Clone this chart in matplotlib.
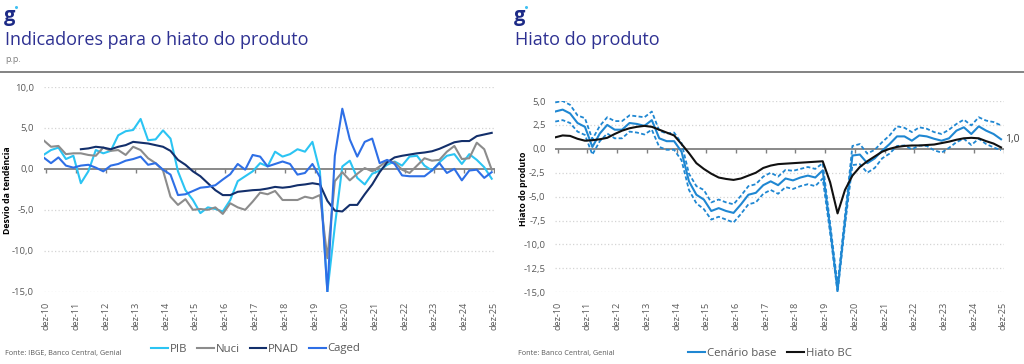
import numpy as np
import pandas as pd
import matplotlib
matplotlib.use("Agg")
import matplotlib.pyplot as plt
from matplotlib.lines import Line2D

plt.rcParams['font.family'] = ['Open Sans', 'DejaVu Sans']

# ---------------- data ----------------
quarters = pd.period_range('2010Q4', '2025Q4', freq='Q')
tick_labels = ['dez-10', 'dez-11', 'dez-12', 'dez-13', 'dez-14', 'dez-15', 'dez-16', 'dez-17',
               'dez-18', 'dez-19', 'dez-20', 'dez-21', 'dez-22', 'dez-23', 'dez-24', 'dez-25']

# Left chart: indicators for the output gap (p.p.)
pib = [1.7, 2.3, 2.6, 1.2, 1.6, -1.75, -0.3, 2.3, 1.9, 2.2,
       4.1, 4.6, 4.75, 6.1, 3.5, 3.6, 4.7, 3.7, -0.3, -2.6,
       -3.8, -5.4, -4.7, -4.9, -5.2, -3.8, -1.5, -0.9, -0.3, 0.7,
       0.3, 2.1, 1.5, 1.8, 2.4, 2.1, 3.3, -0.3, -15.0, -7.0,
       0.3, 1.0, -1.1, -1.9, -0.6, -0.2, 0.5, 0.9, 0.4, 1.5,
       1.6, 0.4, -0.2, 0.8, 1.6, 1.8, 0.6, 1.8, 1.1, 0.2,
       -1.2]
nuci = [3.5, 2.7, 2.8, 1.8, 1.9, 1.9, 1.7, 1.6, 2.6, 2.2,
        2.3, 1.7, 2.7, 2.3, 1.3, 0.7, -0.2, -3.4, -4.4, -3.7,
        -5.0, -4.9, -5.0, -4.7, -5.5, -4.2, -4.7, -5.0, -4.0, -2.9,
        -3.1, -2.7, -3.8, -3.8, -3.8, -3.4, -3.6, -3.2, -10.9, -1.5,
        -0.4, -1.4, -0.6, 0.1, -0.3, 0.3, 1.0, 0.8, -0.1, -0.5,
        0.4, 1.3, 1.0, 1.1, 2.1, 2.8, 1.2, 1.3, 3.2, 2.4,
        -0.1]
pnad = [None, None, None, None, None, 2.4, 2.5, 2.7, 2.6, 2.4,
        2.7, 2.9, 3.3, 3.2, 3.1, 2.9, 2.7, 2.2, 1.1, 0.5,
        -0.3, -0.9, -1.75, -2.6, -3.2, -3.2, -2.8, -2.7, -2.6, -2.55,
        -2.4, -2.2, -2.3, -2.2, -2.0, -1.9, -1.75, -1.9, -3.9, -5.1,
        -5.2, -4.4, -4.4, -3.1, -1.9, -0.4, 0.8, 1.4, 1.6, 1.75,
        1.9, 2.0, 2.15, 2.45, 2.85, 3.25, 3.4, 3.4, 4.0, 4.2,
        4.4]
caged = [1.4, 0.7, 1.4, 0.4, 0.15, 0.4, 0.5, 0.15, -0.3, 0.4,
         0.6, 1.0, 1.2, 1.5, 0.5, 0.7, -0.1, -0.7, -3.2, -3.1,
         -2.7, -2.3, -2.2, -2.0, -1.3, -0.65, 0.6, -0.1, 1.7, 1.5,
         0.3, 0.6, 0.9, 0.6, -0.7, -0.5, 0.6, -1.0, -15.0, 1.6,
         7.35, 3.6, 1.5, 3.3, 3.7, 0.7, 1.1, 0.6, -0.8, -0.9,
         -0.9, -0.9, -0.2, 0.7, -0.5, 0.0, -1.4, -0.2, -0.1, -1.1,
         -0.4]

# Right chart: output gap
base = [3.9, 4.1, 3.7, 2.7, 2.3, 0.2, 1.6, 2.5, 2.0, 2.0,
        2.7, 2.6, 2.4, 3.0, 1.1, 0.8, 0.8, -0.3, -3.4, -4.8,
        -5.3, -6.5, -6.2, -6.5, -6.7, -5.8, -4.8, -4.6, -3.8, -3.4,
        -3.8, -3.1, -3.3, -3.0, -2.8, -3.0, -2.25, -8.3, -14.8, -7.5,
        -0.7, -0.6, -1.5, -1.0, -0.2, 0.5, 1.3, 1.3, 0.85, 1.4,
        1.3, 1.05, 0.85, 1.1, 1.9, 2.25, 1.55, 2.35, 1.9, 1.55,
        1.0]
upper = [4.85, 5.0, 4.6, 3.5, 3.2, 1.0, 2.4, 3.3, 2.9, 2.9,
         3.5, 3.4, 3.3, 3.9, 1.9, 1.6, 1.7, 0.6, -2.6, -3.9,
         -4.3, -5.6, -5.3, -5.6, -5.8, -4.9, -3.9, -3.7, -2.9, -2.5,
         -2.9, -2.2, -2.3, -2.1, -1.9, -2.1, -1.5, -7.8, -14.2, -7.0,
         0.3, 0.5, -0.5, -0.1, 0.7, 1.4, 2.35, 2.2, 1.75, 2.25,
         2.1, 1.75, 1.55, 2.0, 2.6, 3.05, 2.45, 3.3, 2.95, 2.8,
         2.45]
lower = [2.85, 3.0, 2.7, 1.8, 1.45, -0.6, 0.8, 1.6, 1.1, 1.1,
         1.8, 1.7, 1.5, 2.0, 0.2, -0.1, -0.1, -1.2, -4.3, -5.7,
         -6.3, -7.4, -7.1, -7.4, -7.7, -6.8, -5.8, -5.6, -4.7, -4.3,
         -4.7, -4.0, -4.2, -3.9, -3.7, -3.9, -3.1, -8.8, -15.0, -8.0,
         -1.7, -1.6, -2.5, -2.0, -1.0, -0.5, 0.3, 0.35, -0.05, 0.35,
         0.3, -0.15, -0.4, 0.1, 0.7, 1.05, 0.4, 1.05, 0.5, 0.15,
         -0.15]
hiato_bc = [1.2, 1.4, 1.35, 1.05, 0.85, 0.9, 1.0, 1.15, 1.55, 1.9,
            2.15, 2.3, 2.4, 2.3, 2.0, 1.7, 1.4, 0.5, -0.45, -1.5,
            -2.1, -2.6, -3.0, -3.15, -3.25, -3.1, -2.8, -2.5, -2.0, -1.75,
            -1.6, -1.55, -1.5, -1.45, -1.4, -1.35, -1.3, -3.5, -6.75, -4.3,
            -2.8, -1.9, -1.3, -0.8, -0.3, 0.0, 0.2, 0.3, 0.35, 0.35,
            0.4, 0.45, 0.6, 0.75, 0.95, 1.1, 1.15, 1.1, 0.8, 0.55,
            0.15]

# ---------------- positions ----------------
# x in quarters since Dec-2010, each quarter placed at its middle month
x = np.array([((q.year - 2010) * 12 + q.quarter * 3 - 1 - 12) / 3 for q in quarters])
tick_x = np.array([(int('20' + t[-2:]) - 2010) * 4 for t in tick_labels])

W, H = 1024, 364
fig = plt.figure(figsize=(W / 100, H / 100), dpi=100)


def fx(px):
    return px / W


def fy(py):
    return 1 - py / H


XMIN, XMAX = -0.33, 60.1
GRAY_TXT = '#595959'


def make_axes(x0_px, px_per_q, ytop, ybot):
    left = x0_px + XMIN * px_per_q
    right = x0_px + XMAX * px_per_q
    return fig.add_axes([fx(left), fy(ybot), (right - left) / W, (ybot - ytop) / H])


def style(ax, ymin, ymax, ystep, tick_len):
    ax.set_xlim(XMIN, XMAX)
    ax.set_ylim(ymin, ymax)
    for s in ax.spines.values():
        s.set_visible(False)
    yt = np.arange(ymin, ymax + ystep / 2, ystep)
    ax.set_yticks(yt)
    ax.set_yticklabels([f"{v + 0.0:.1f}".replace('.', ',') for v in yt],
                       fontsize=6.8, color=GRAY_TXT)
    for v in yt:
        if abs(v) > 1e-9:
            ax.axhline(v, color='#D4D4D4', lw=0.9, ls=(0, (1, 1.8)), zorder=0)
    ax.axhline(0, color='#808080', lw=1.3, zorder=1)
    ax.vlines(tick_x, -tick_len, 0, color='#808080', lw=1.0, zorder=1)
    ax.set_xticks(tick_x)
    ax.set_xticklabels(tick_labels, rotation=90, fontsize=6.6, color=GRAY_TXT)
    ax.tick_params(axis='both', length=0)
    ax.tick_params(axis='x', pad=7)
    ax.tick_params(axis='y', pad=7)
    ax.patch.set_alpha(0)


# ---------------- left chart ----------------
axL = make_axes(46.0, 7.47, 87.0, 291.7)
style(axL, -15, 10, 5, 0.45)
cols_L = ['#2BC4F3', '#8C8C8C', '#132F6B', '#2E6FE6']
names_L = ['PIB', 'Nuci', 'PNAD', 'Caged']
linesL = []
for vals, c, n in zip([pib, nuci, pnad, caged], cols_L, names_L):
    ln, = axL.plot(x, np.array(vals, dtype=float), color=c, lw=1.5, label=n, zorder=3,
                   solid_joinstyle='round')
    linesL.append(ln)

# ---------------- right chart ----------------
axR = make_axes(557.7, 7.43, 101.0, 292.3)
style(axR, -15, 5, 2.5, 0.4)
BLUE = '#1F87D2'
axR.plot(x, upper, color=BLUE, lw=1.3, ls=(0, (2.2, 1.3)), zorder=3)
axR.plot(x, lower, color=BLUE, lw=1.3, ls=(0, (2.2, 1.3)), zorder=3)
lb, = axR.plot(x, base, color=BLUE, lw=1.5, label='Cenário base', zorder=4)
lh, = axR.plot(x, hiato_bc, color='#111111', lw=1.5, label='Hiato BC', zorder=5)
axR.annotate(f"{base[-1]:.1f}".replace('.', ','), xy=(x[-1], base[-1]), xytext=(3, 0),
             textcoords='offset points', ha='left', va='center', fontsize=7.5,
             color='#404040', annotation_clip=False)

# ---------------- headers ----------------
TITLE_C = '#2E3192'
for lx, title in [(5, 'Indicadores para o hiato do produto'), (515, 'Hiato do produto')]:
    fig.text(fx(lx - 1.5), fy(21.5), 'g', fontsize=14.5, fontweight='bold', color='#1C2A86',
             ha='left', va='baseline')
    fig.add_artist(Line2D([fx(lx + 11)], [fy(7)], marker='o', markersize=2.2, color='#3FC1F2',
                          markeredgewidth=0, transform=fig.transFigure))
    fig.text(fx(lx), fy(45), title, fontsize=13, color=TITLE_C, ha='left', va='baseline')
fig.text(fx(5), fy(62.5), 'p.p.', fontsize=6.5, color='#7F7F7F', ha='left', va='baseline')
fig.add_artist(Line2D([0, 1], [fy(72), fy(72)], transform=fig.transFigure,
                      color='#6E6E6E', lw=1.2))

# y-axis titles
fig.text(fx(8), fy(190), 'Desvio da tendência', rotation=90, ha='center', va='center',
         fontsize=6.3, fontweight='bold', color='#000000')
fig.text(fx(524), fy(188.5), 'Hiato do produto', rotation=90, ha='center', va='center',
         fontsize=6.3, fontweight='bold', color='#000000')

# legends
fig.legend(handles=linesL, labels=names_L, loc='center', bbox_to_anchor=(fx(256), fy(349)),
           ncol=4, frameon=False, fontsize=8.2, handlelength=1.45, handletextpad=0.15,
           columnspacing=0.9, labelcolor=GRAY_TXT, borderpad=0)
fig.legend(handles=[lb, lh], labels=['Cenário base', 'Hiato BC'], loc='center',
           bbox_to_anchor=(fx(770), fy(353)), ncol=2, frameon=False, fontsize=8.2,
           handlelength=1.45, handletextpad=0.15, columnspacing=1.0,
           labelcolor=GRAY_TXT, borderpad=0)

# sources
fig.text(fx(5), fy(354), 'Fonte: IBGE, Banco Central, Genial', fontsize=5.2, color=GRAY_TXT,
         ha='left', va='center')
fig.text(fx(518), fy(354), 'Fonte: Banco Central, Genial', fontsize=5.2, color=GRAY_TXT,
         ha='left', va='center')

fig.savefig('out.png', dpi=100, facecolor='white')
